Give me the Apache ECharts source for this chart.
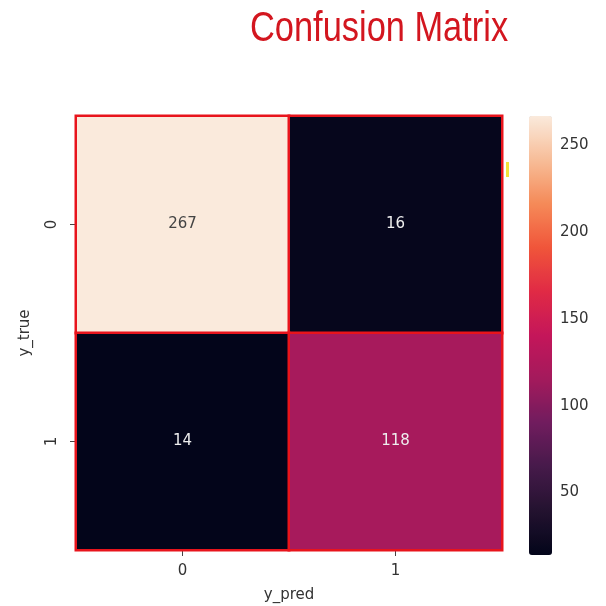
<!DOCTYPE html>
<html>
<head>
<meta charset="utf-8">
<script src="https://cdn.jsdelivr.net/npm/echarts@6/dist/echarts.min.js"></script>
<style>
  html, body { margin: 0; padding: 0; background: #ffffff; }
  #chart { width: 606px; height: 606px; }
</style>
</head>
<body>
<div id="chart"></div>
<script>
// confusion matrix heatmap (seaborn "rocket" look)
var predLabels = ['0', '1'];
var trueLabels = ['0', '1'];
// [pred index, true index, count]
var cellValues = [
  [0, 0, 267],
  [1, 0, 16],
  [0, 1, 14],
  [1, 1, 118]
];
var colorbarTicks = [50, 100, 150, 200, 250];
var valueMin = 14;
var valueMax = 267;

// rocket-like colormap stops (a bit more saturated, like the screenshot)
var rocket = ['#03051a', '#23122f', '#461a4a', '#701c5e', '#a31a5c', '#c4165a',
  '#e02a45', '#f0553a', '#f58a58', '#f7bd98', '#faeadc'];

var chart = echarts.init(document.getElementById('chart'));

var option = {
  backgroundColor: '#ffffff',
  animation: false,
  graphic: [
    {
      type: 'text',
      left: 250,
      top: 8,
      scaleX: 0.8,
      style: {
        text: 'Confusion Matrix',
        fill: '#d3161f',
        font: 'normal 43px "Liberation Sans", Arial, sans-serif'
      }
    },
    {
      // little yellow cursor mark left in the screenshot
      type: 'rect',
      shape: { x: 506, y: 162, width: 3, height: 15 },
      style: { fill: '#f2e23a' }
    }
  ],
  grid: [
    { left: 76, right: 104, top: 116, bottom: 56, outerBoundsMode: 'none' },   // heatmap
    { left: 529, width: 23, top: 116, bottom: 51, outerBoundsMode: 'none' }    // colorbar axis
  ],
  xAxis: [
    {
      type: 'category',
      data: predLabels,
      gridIndex: 0,
      name: 'y_pred',
      nameLocation: 'middle',
      nameGap: 38,
      nameTextStyle: { color: '#333', fontSize: 15, fontFamily: 'DejaVu Sans' },
      splitArea: { show: false },
      axisLine: { show: false },
      axisTick: { show: true, alignWithLabel: true, length: 6, lineStyle: { color: '#444' } },
      axisLabel: { color: '#333', fontSize: 15, fontFamily: 'DejaVu Sans', margin: 14 }
    },
    { type: 'value', gridIndex: 1, show: false, min: 0, max: 1 }
  ],
  yAxis: [
    {
      type: 'category',
      data: trueLabels,
      gridIndex: 0,
      inverse: true,
      name: 'y_true',
      nameLocation: 'middle',
      nameGap: 43,
      nameRotate: 90,
      nameTextStyle: { color: '#333', fontSize: 15, fontFamily: 'DejaVu Sans' },
      axisLine: { show: false },
      axisTick: { show: true, alignWithLabel: true, length: 6, lineStyle: { color: '#444' } },
      axisLabel: { color: '#333', fontSize: 15, fontFamily: 'DejaVu Sans', rotate: 90, margin: 16 }
    },
    {
      type: 'value',
      gridIndex: 1,
      position: 'right',
      min: valueMin,
      max: valueMax,
      splitLine: { show: false },
      axisLine: { show: false },
      axisTick: { show: true, length: 5, customValues: colorbarTicks, lineStyle: { color: '#444' } },
      axisLabel: { color: '#333', fontSize: 15, fontFamily: 'DejaVu Sans', margin: 8, customValues: colorbarTicks }
    }
  ],
  visualMap: {
    type: 'continuous',
    min: valueMin,
    max: valueMax,
    seriesIndex: 0,
    calculable: false,
    orient: 'vertical',
    left: 529,
    top: 116,
    padding: 0,
    itemWidth: 23,
    itemHeight: 439,
    text: ['', ''],
    showLabel: false,
    inRange: { color: rocket }
  },
  series: [{
    type: 'heatmap',
    xAxisIndex: 0,
    yAxisIndex: 0,
    itemStyle: { borderColor: '#e8141c', borderWidth: 2.5 },
    label: {
      show: true,
      fontSize: 15,
      fontFamily: 'DejaVu Sans',
      formatter: function (p) { return p.value[2]; }
    },
    emphasis: { disabled: true },
    // dark text on the light cell, light text elsewhere
    data: cellValues.map(function (d) {
      return {
        value: d,
        label: { color: d[2] > 200 ? '#444444' : '#eeeeee' }
      };
    })
  }]
};

chart.setOption(option);
window.addEventListener('resize', function () {
  chart.resize();
});
</script>
</body>
</html>
